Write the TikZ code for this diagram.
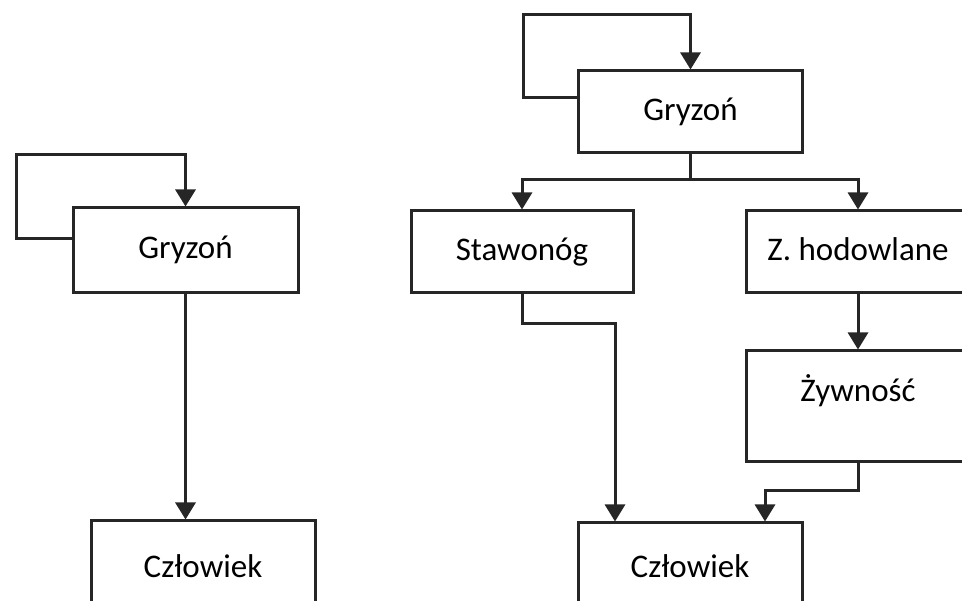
\documentclass[tikz,border=0pt]{standalone}
\usepackage{fontspec}
\setmainfont{Carlito}
\usetikzlibrary{arrows.meta}
\definecolor{ink}{HTML}{262626}
\tikzset{
  box/.style={draw=ink, line width=3pt, minimum width=224pt, minimum height=82pt,
              text height=23pt, text depth=6pt, inner sep=0pt,
              font=\fontsize{33}{40}\selectfont},
  wire/.style={draw=ink, line width=3pt},
  link/.style={wire, -{Triangle[width=20pt,length=17pt]}},
}

\begin{document}
\begin{tikzpicture}[x=1pt,y=-1pt]
\useasboundingbox (0,0) rectangle (962,601);
\clip (0,0) rectangle (962,601);

\node[box, minimum width=225pt, minimum height=85pt] (gryzonL) at (185.5,250.5) {Gryzoń};
\node[box, minimum height=96pt] (czlowiekL) at (203,569) {Człowiek};
\draw[link] ([yshift=12pt]gryzonL.west) -| (16,155) -| (gryzonL.north);
\draw[link] (gryzonL.south) -- (gryzonL.south |- czlowiekL.north);

\node[box] (gryzonR) at (690.5,112) {Gryzoń};
\node[box, minimum width=222pt] (stawonog) at (522,252) {Stawonóg};
\node[box] (zhodowlane) at (858,252) {Z. hodowlane};
\node[box, minimum height=111pt, text depth=32pt] (zywnosc) at (858,406.5) {Żywność};
\node[box, minimum height=92pt] (czlowiekR) at (690,569) {Człowiek};

\draw[link] ([yshift=14pt]gryzonR.west) -| (523,15) -| (gryzonR.north);
\coordinate (split) at (690.5,180);
\draw[wire] (gryzonR.south) -- (split);
\draw[link] (split) -| (stawonog.north);
\draw[link] (split) -| (zhodowlane.north);
\draw[link] (zhodowlane.south) -- (zywnosc.north);
\draw[link] (stawonog.south) -- ++(0,29) -| ([xshift=-75pt]czlowiekR.north);
\draw[link] (zywnosc.south) -- ++(0,27) -| ([xshift=75pt]czlowiekR.north);
\end{tikzpicture}
\end{document}
